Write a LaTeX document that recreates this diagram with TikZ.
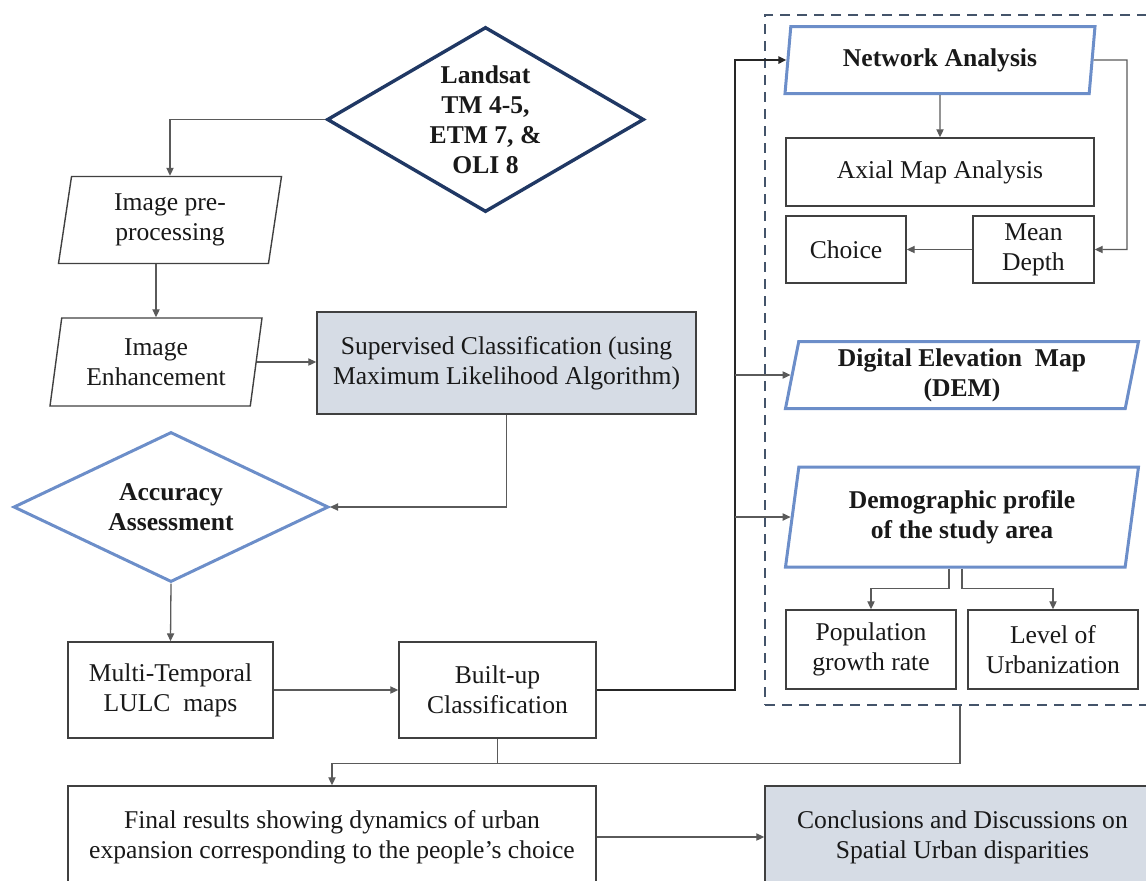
\documentclass[tikz,border=0pt]{standalone}
\usepackage{fontspec}
\setmainfont{Liberation Serif}
\usetikzlibrary{shapes.geometric,arrows.meta}

\definecolor{navy}{RGB}{32,56,100}
\definecolor{lblue}{RGB}{108,142,201}
\definecolor{slate}{RGB}{68,84,106}
\definecolor{boxfill}{RGB}{214,220,229}
\definecolor{linegray}{RGB}{90,90,90}

\tikzset{
  txt/.style={font=\fontsize{12.8}{15}\selectfont, align=center, text=black!90},
  box/.style={txt, rectangle, draw=black!75, line width=0.7pt, inner sep=2pt},
  para/.style={txt, trapezium, trapezium left angle=76, trapezium right angle=104,
    trapezium stretches body, draw=black!75, line width=0.7pt, inner sep=0pt},
  bpara/.style={para, draw=lblue, line width=1.5pt, font=\fontsize{12.8}{15}\selectfont\bfseries},
  dec/.style={txt, diamond, draw=lblue, line width=1.5pt, inner sep=0pt,
    font=\fontsize{12.8}{15}\selectfont\bfseries},
  arr/.style={draw=linegray, line width=0.65pt, -{Triangle[length=4pt,width=3.6pt]}},
  ln/.style={draw=linegray, line width=0.65pt},
}

\begin{document}
\begin{tikzpicture}[x=0.5pt, y=-0.5pt]
\useasboundingbox (0,0) rectangle (1146,880);
\clip (0,0) rectangle (1146,880);

\node[dec, draw=navy, line width=1.7pt, minimum width=158.5pt, minimum height=92.5pt, aspect=1.71] (lsat) at (485.5,119.5) {Landsat\\TM 4-5,\\ETM 7, \&\\OLI 8};
\node[para, minimum width=111.5pt, minimum height=43.5pt] (pre) at (170,220) {Image pre-\\processing};
\node[para, minimum width=106pt, minimum height=44pt] (enh) at (156,362) {Image\\Enhancement};
\node[box, fill=boxfill, minimum width=189.5pt, minimum height=51pt] (sup) at (506.5,363) {Supervised Classification (using\\Maximum Likelihood Algorithm)};
\node[dec, minimum width=157.5pt, minimum height=75pt, aspect=2.1] (acc) at (171,507) {Accuracy\\Assessment};
\node[box, minimum width=102.5pt, minimum height=48pt] (multi) at (170.5,690) {Multi-Temporal\\LULC~~maps};
\node[box, minimum width=98.5pt, minimum height=48pt] (built) at (497.5,690) {Built-up\\Classification};
\node[box, minimum width=264pt, minimum height=51pt] (final) at (332,837) {Final results showing dynamics of urban\\expansion corresponding to the people’s choice};
\node[box, fill=boxfill, minimum width=197.5pt, minimum height=51pt] (concl) at (962.5,837) {Conclusions and Discussions on\\Spatial Urban disparities};

\node[draw=slate, line width=1.2pt, dash pattern=on 5pt off 3.5pt, minimum width=195pt, minimum height=345pt] (grp) at (960,360) {};
\node[bpara, minimum width=155pt, minimum height=33.5pt] (net) at (940,60) {Network Analysis};
\node[box, minimum width=154pt, minimum height=34pt] (axial) at (940,172) {Axial Map Analysis};
\node[box, minimum width=60pt, minimum height=33.5pt] (choice) at (846,249.5) {Choice};
\node[box, minimum width=60.5pt, minimum height=33.5pt] (mean) at (1033.5,249.5) {Mean\\Depth};
\node[bpara, minimum width=176.5pt, minimum height=33.5pt] (dem) at (962,375) {Digital Elevation~~Map\\(DEM)};
\node[bpara, minimum width=176.5pt, minimum height=50pt] (demo) at (962,517) {Demographic profile\\of the study area};
\node[box, minimum width=85pt, minimum height=39.5pt] (pop) at (871,649.5) {Population\\growth rate};
\node[box, minimum width=85pt, minimum height=39.5pt] (lvl) at (1053,649.5) {Level of\\Urbanization};

\draw[arr] (lsat.west) -| (pre.north);
\draw[arr] (enh.north |- pre.south) -- (enh.north);
\draw[arr] (enh.east) -- (sup.west |- enh.east);
\draw[arr] (sup.south) |- (acc.east);
\draw[arr] (acc.south) -- (multi.north);
\draw[arr] (multi.east) -- (built.west);

\coordinate (bus) at (735,690);
\draw[arr, draw=black!85, line width=1pt] (built.east) -- (bus) |- (net.west);
\draw[arr] (bus |- dem.west) -- (dem.west);
\draw[arr] (bus |- demo.west) -- (demo.west);

\draw[arr] (net.south) -- (axial.north);
\coordinate (netR) at (1127,60);
\draw[arr] (net.east) -- (netR) |- (mean.east);
\draw[arr] (mean.west) -- (choice.east);
\draw[arr] ([xshift=-6.5pt]demo.south) -- ++(0,20) -| (pop.north);
\draw[arr] (demo.south) -- ++(0,20) -| (lvl.north);

\draw[arr] (grp.south) -- ++(0,57) -| (final.north);
\draw[ln] (built.south) -- ++(0,24);
\draw[arr] (final.east) -- (concl.west);
\end{tikzpicture}
\end{document}
